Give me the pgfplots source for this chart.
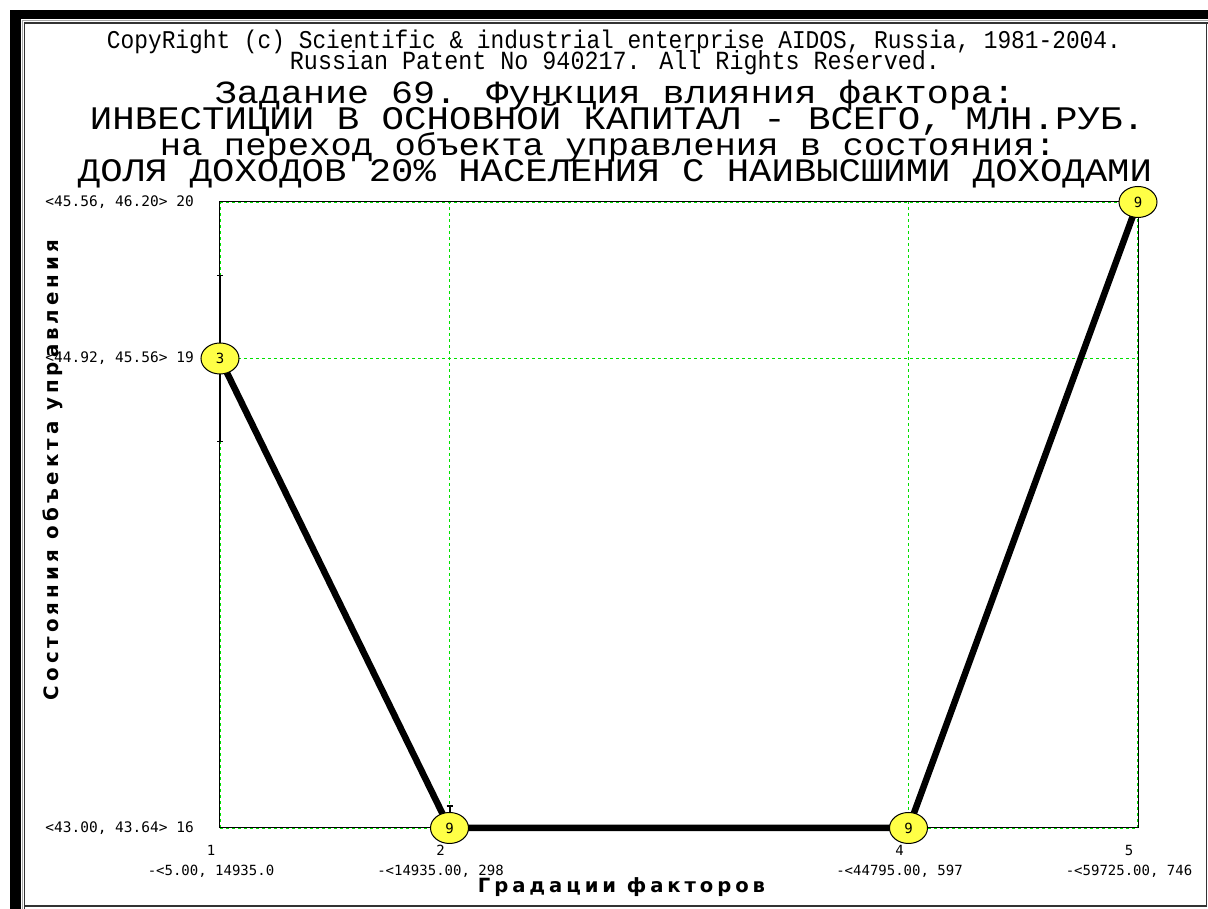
\documentclass[border=0pt]{standalone}
\usepackage{pgfplots}
\pgfplotsset{compat=1.18}
\usepackage{fontspec}
\usetikzlibrary{shapes.geometric}
\setmainfont{Liberation Sans}
\newfontfamily\titlefont{Liberation Mono}
\newfontfamily\monofont{DejaVu Sans Mono}
\newfontfamily\labfont[LetterSpace=20]{DejaVu Sans}
\definecolor{grgreen}{RGB}{0,225,0}
\definecolor{myyellow}{RGB}{255,255,70}

\pgfplotstableread{
x y lab
1 19 3
2 16 9
4 16 9
5 20 9
}\pts
\pgfplotstableread{
x y ep em
1 19 0.53 0.53
2 16 0.14 0
4 16 0.10 0
5 20 0 0.08
}\errs

\newcommand\tline[3]{\scalebox{1}[#2]{\resizebox{#1}{!}{\titlefont #3}}}

\begin{document}
\begin{tikzpicture}[x=1pt,y=1pt]
\path[use as bounding box] (0,0) rectangle (1208,909);
% frame
\fill[black] (10,899) rectangle (1208,890);
\fill[black] (10,899) rectangle (21,0);
\draw[black!35, line width=1.4pt] (22.5,0) -- (22.5,888.3) -- (1208,888.3);
\draw[black!80, line width=1.3pt] (24.8,0) -- (24.8,886) -- (1208,886);
\draw[black!80, line width=1.3pt] (24.8,3) -- (1206.5,3) -- (1206.5,886);

% titles
\node[anchor=base, inner sep=0pt] at (614,860) {\tline{1014pt}{1.12}{CopyRight (c) Scientific \& industrial enterprise AIDOS, Russia, 1981-2004.}};
\node[anchor=base, inner sep=0pt] at (615,839) {\tline{650pt}{1.12}{Russian Patent No 940217. All Rights Reserved.}};
\node[anchor=base, inner sep=0pt] at (615,805) {\tline{800pt}{0.88}{Задание 69. Функция влияния фактора:}};
\node[anchor=base, inner sep=0pt] at (617.5,779) {\tline{1055pt}{0.88}{ИНВЕСТИЦИИ В ОСНОВНОЙ КАПИТАЛ - ВСЕГО, МЛН.РУБ.}};
\node[anchor=base, inner sep=0pt] at (608,753) {\tline{896pt}{0.88}{на переход объекта управления в состояния:}};
\node[anchor=base, inner sep=0pt] at (615,727) {\tline{1074pt}{0.88}{ДОЛЯ ДОХОДОВ 20\% НАСЕЛЕНИЯ С НАИВЫСШИМИ ДОХОДАМИ}};

% axis labels
\node[anchor=base, inner sep=0pt] at (621.5,16) {\resizebox{287pt}{!}{\labfont\bfseries Градации факторов}};
\node[anchor=base, inner sep=0pt, rotate=90] at (58,439) {\resizebox{460pt}{!}{\labfont\bfseries Состояния объекта управления}};

\begin{axis}[
  at={(220pt,81pt)}, anchor=south west,
  width=918pt, height=626pt, scale only axis,
  xmin=1, xmax=5, ymin=16, ymax=20,
  clip=false,
  xtick={1,2,4,5}, ytick={16,19,20},
  xticklabels={{1\\-<5.00, 14935.0},{2\\-<14935.00, 298},{4\\-<44795.00, 597},{5\\-<59725.00, 746}},
  yticklabels={{<43.00, 43.64> 16},{<44.92, 45.56> 19},{<45.56, 46.20> 20}},
  major tick length=0pt,
  axis line style={black, line width=1pt},
  grid=major,
  major grid style={grgreen, line width=1.8pt, dash pattern=on 3pt off 3pt},
  xticklabel style={anchor=north, inner sep=0pt, yshift=-17pt, xshift=-9pt, align=center,
     font=\monofont\fontsize{14}{20}\selectfont},
  yticklabel style={anchor=east, inner sep=0pt, xshift=-26pt,
     font=\monofont\fontsize{14.5}{17}\selectfont},
]
\addplot[only marks, mark=none, error bars/.cd, y dir=both, y explicit,
   error bar style={black, line width=2pt},
   error mark options={black, line width=1.5pt, mark size=3pt, rotate=90}]
   table[x=x, y=y, y error plus=ep, y error minus=em] {\errs};
\addplot[black, line width=6.5pt, line join=round, mark=none] table[x=x, y=y] {\pts};
\addplot[draw=none, mark=none, nodes near coords, point meta=explicit symbolic,
   every node near coord/.style={anchor=center, shape=ellipse, draw=black, line width=1pt,
     fill=myyellow, minimum width=38pt, minimum height=31pt, inner sep=0pt,
     font=\monofont\fontsize{14}{14}\selectfont}]
   table[x=x, y=y, meta=lab] {\pts};
\end{axis}
\end{tikzpicture}
\end{document}
